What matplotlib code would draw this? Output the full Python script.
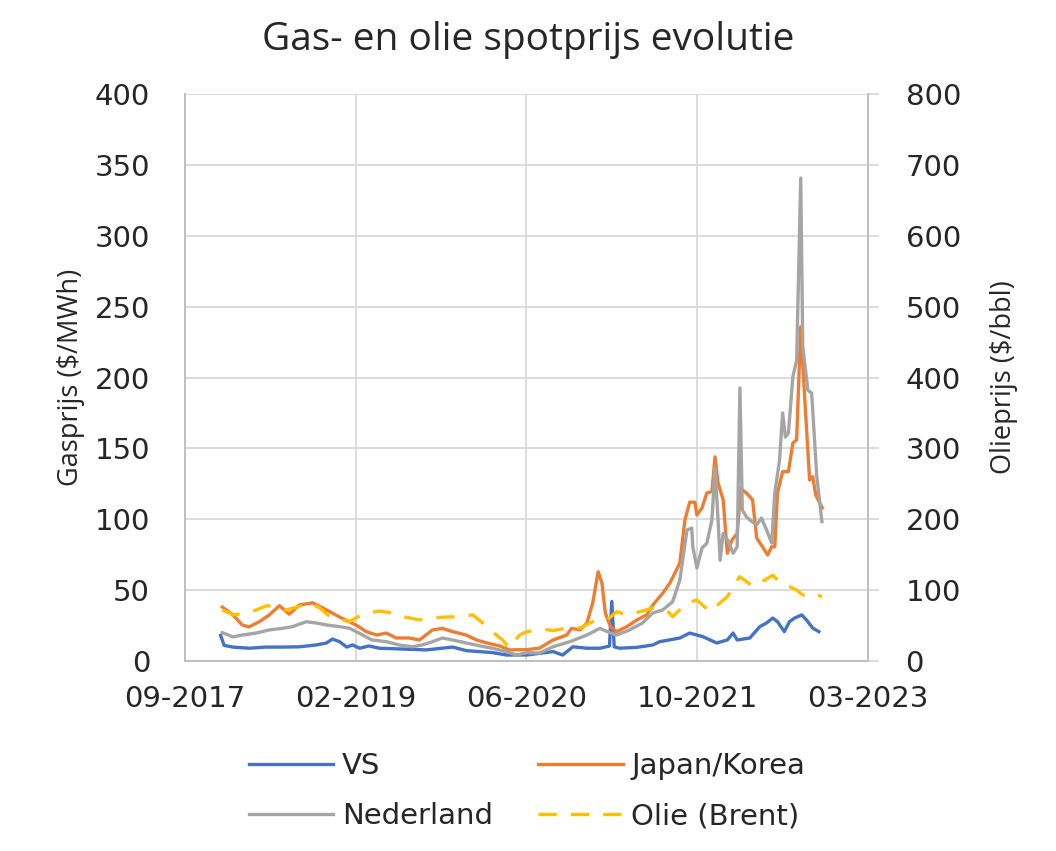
import datetime as dt
import matplotlib
matplotlib.use('Agg')
import matplotlib.pyplot as plt
import matplotlib.dates as mdates

# Gasprijzen in $/MWh (linker as), olie in $/bbl (rechter as)
vs_dates = ['2018-01-05', '2018-01-15', '2018-02-10', '2018-03-29', '2018-05-18', '2018-07-04',
            '2018-08-23', '2018-10-12', '2018-11-11', '2018-11-28', '2018-12-19', '2019-01-09',
            '2019-01-26', '2019-02-16', '2019-03-15', '2019-04-14', '2019-06-12', '2019-08-30',
            '2019-11-15', '2019-12-25', '2020-03-10', '2020-04-21', '2020-06-19', '2020-09-04',
            '2020-10-02', '2020-11-01', '2020-12-12', '2021-01-19', '2021-02-16', '2021-02-23',
            '2021-03-02', '2021-03-17', '2021-05-07', '2021-06-23', '2021-07-13', '2021-09-10',
            '2021-10-09', '2021-11-17', '2021-12-27', '2022-01-27', '2022-02-13', '2022-02-25',
            '2022-04-03', '2022-05-02', '2022-05-22', '2022-06-09', '2022-06-23', '2022-07-13',
            '2022-07-28', '2022-08-12', '2022-09-02', '2022-09-16', '2022-10-04', '2022-10-22']
vs_values = [18, 11, 9.8, 9, 9.8, 9.8, 10, 11.3, 12.7, 15.5, 13.6, 9.8, 11.3, 9, 10.6, 9, 8.5, 7.8,
             9.8, 7.3, 5.9, 4.2, 4.2, 6.6, 4.2, 10, 9, 9, 10.5, 42, 10, 9, 9.6, 11.3, 13.6, 16.2,
             19.7, 17.1, 12.7, 14.8, 19.7, 14.8, 16.2, 24.2, 26.8, 30.3, 27.7, 20.7, 27.7, 30.3,
             32.5, 28.9, 23.2, 20.7]

jk_dates = ['2018-01-10', '2018-02-10', '2018-03-09', '2018-03-29', '2018-04-28', '2018-05-27',
            '2018-06-26', '2018-07-25', '2018-08-23', '2018-10-01', '2018-11-11', '2018-12-19',
            '2019-02-08', '2019-03-07', '2019-04-06', '2019-05-05', '2019-06-03', '2019-07-11',
            '2019-08-10', '2019-09-17', '2019-10-16', '2019-11-15', '2019-12-25', '2020-01-24',
            '2020-02-23', '2020-04-01', '2020-04-29', '2020-06-19', '2020-07-26', '2020-09-04',
            '2020-10-14', '2020-10-28', '2020-11-22', '2020-12-12', '2020-12-29', '2021-01-14',
            '2021-01-25', '2021-02-04', '2021-02-19', '2021-03-09', '2021-04-08', '2021-05-07',
            '2021-06-05', '2021-06-23', '2021-07-22', '2021-08-12', '2021-09-10', '2021-09-25',
            '2021-10-09', '2021-10-24', '2021-10-30', '2021-11-14', '2021-11-28', '2021-12-13',
            '2021-12-22', '2021-12-31', '2022-01-15', '2022-01-27', '2022-02-10', '2022-02-25',
            '2022-03-08', '2022-03-15', '2022-03-24', '2022-04-11', '2022-04-23', '2022-05-10',
            '2022-05-25', '2022-06-06', '2022-06-15', '2022-06-23', '2022-07-08', '2022-07-25',
            '2022-08-07', '2022-08-18', '2022-08-30', '2022-09-11', '2022-09-25', '2022-10-04',
            '2022-10-13', '2022-11-01']
jk_values = [38, 32.5, 25.4, 24, 27.7, 32.4, 39, 33, 39.5, 41, 36, 31, 25, 20.7, 18.3, 19.7,
             16.2, 16.2, 14.8, 21.9, 23, 20.7, 18.3, 14.8, 12.7, 10.6, 7.8, 8, 9, 14.8, 18.3, 23,
             21.9, 26.8, 40.9, 63, 55, 33.9, 24.2, 20.7, 24.2, 28.9, 32.5, 39.5, 47.8, 55, 69,
             99.5, 112, 112, 103, 108, 118.5, 119.5, 144, 125.6, 113.6, 76, 85.4, 90, 122, 120,
             118.5, 113.6, 86.8, 80.6, 74.8, 80.6, 80.6, 118.5, 133.6, 133.6, 153.8, 156, 235.8,
             184, 127.7, 130, 117, 108]

nl_dates = ['2018-01-10', '2018-02-10', '2018-03-09', '2018-04-19', '2018-05-27', '2018-07-04',
            '2018-08-03', '2018-09-13', '2018-10-12', '2018-11-11', '2018-12-19', '2019-01-18',
            '2019-02-25', '2019-03-24', '2019-05-05', '2019-06-12', '2019-07-19', '2019-08-18',
            '2019-09-17', '2019-10-16', '2019-11-15', '2019-12-25', '2020-02-03', '2020-03-10',
            '2020-04-21', '2020-05-20', '2020-06-19', '2020-07-26', '2020-09-04', '2020-10-23',
            '2020-12-12', '2021-01-19', '2021-02-10', '2021-03-09', '2021-04-16', '2021-05-24',
            '2021-06-23', '2021-07-22', '2021-08-20', '2021-09-10', '2021-10-01', '2021-10-15',
            '2021-10-18', '2021-10-30', '2021-11-14', '2021-11-28', '2021-12-13', '2021-12-22',
            '2021-12-31', '2022-01-06', '2022-01-15', '2022-01-29', '2022-02-13', '2022-02-25',
            '2022-03-05', '2022-03-12', '2022-03-24', '2022-04-03', '2022-04-23', '2022-05-07',
            '2022-05-22', '2022-06-06', '2022-06-15', '2022-06-29', '2022-07-08', '2022-07-16',
            '2022-07-25', '2022-08-07', '2022-08-18', '2022-08-30', '2022-09-05', '2022-09-20',
            '2022-10-01', '2022-10-16', '2022-10-31']
nl_values = [20, 17, 18.3, 19.7, 21.9, 23, 24.2, 27.7, 26.8, 25.4, 24.2, 23, 18.3, 14.8, 13.6,
             11.3, 10, 11.3, 13.6, 16.2, 14.8, 12.7, 10.6, 9, 6.6, 4.2, 5.9, 5.6, 10, 13.6, 18.3,
             23, 20.7, 18.3, 21.9, 26.8, 33.9, 36, 41.8, 57, 92.4, 93.8, 80.6, 65.6, 79.7, 83,
             99.5, 136, 99.5, 71, 90, 85, 76, 80.6, 192.6, 106.5, 101.8, 99.5, 96, 100.9, 92.4,
             83.2, 118.5, 141.8, 175, 158, 160.8, 200.6, 212, 340.7, 221.7, 191, 189, 130, 98.3]

oil_dates = ['2018-01-10', '2018-02-10', '2018-03-15', '2018-04-19', '2018-05-20', '2018-06-20',
             '2018-07-16', '2018-08-23', '2018-09-22', '2018-10-22', '2018-11-14', '2018-12-19',
             '2019-01-18', '2019-02-25', '2019-04-14', '2019-05-22', '2019-06-21', '2019-08-10',
             '2019-09-17', '2019-10-28', '2019-12-05', '2020-01-13', '2020-02-11', '2020-03-10',
             '2020-04-09', '2020-04-29', '2020-05-29', '2020-06-19', '2020-08-05', '2020-09-04',
             '2020-10-14', '2020-11-22', '2020-12-29', '2021-02-10', '2021-03-09', '2021-04-08',
             '2021-05-17', '2021-06-23', '2021-08-02', '2021-08-20', '2021-10-01', '2021-10-30',
             '2021-12-07', '2022-01-27', '2022-03-04', '2022-03-24', '2022-04-11', '2022-05-16',
             '2022-06-09', '2022-07-08', '2022-07-28', '2022-08-18', '2022-09-05', '2022-10-04',
             '2022-10-31']
oil_values = [72, 65, 67, 72, 78, 76, 72, 77, 82, 75, 65, 58, 56, 66, 70.5, 67.7, 62.5, 58, 60.7,
              62, 62.5, 65, 53.6, 41.3, 29.6, 18.3, 36.7, 41.3, 45, 42.8, 46.6, 46.6, 55.5, 58,
              69.6, 65, 69.6, 74.8, 72, 62.5, 81.8, 86, 69.6, 90.7, 119, 112, 105, 114, 121, 107,
              105, 100, 93, 96, 90.7]

gas_ticks = [0, 50, 100, 150, 200, 250, 300, 350, 400]
oil_ticks = [0, 100, 200, 300, 400, 500, 600, 700, 800]


def to_dates(strings):
    return [dt.datetime.strptime(s, '%Y-%m-%d') for s in strings]


fig = plt.figure(figsize=(10.56, 8.51), dpi=100)
ax = fig.add_axes([0.175, 0.2233, 0.647, 0.6662])
ax2 = ax.twinx()

grid_c = '#D9D9D9'
axis_c = '#BFBFBF'
text_c = '#262626'
tick_size = 21

ax.plot(to_dates(vs_dates), vs_values, color='#4472C4', lw=2.4, label='VS')
ax.plot(to_dates(jk_dates), jk_values, color='#ED7D31', lw=2.4, label='Japan/Korea')
ax.plot(to_dates(nl_dates), nl_values, color='#A5A5A5', lw=2.4, label='Nederland')
ax2.plot(to_dates(oil_dates), oil_values, color='#FFC000', lw=2.4, dashes=(5.5, 4.2),
         label='Olie (Brent)')

start = dt.datetime(2017, 9, 22)
xticks = [start + dt.timedelta(days=500 * k) for k in range(5)]
ax.set_xlim(xticks[0], xticks[-1])
ax.set_xticks(xticks)
ax.xaxis.set_major_formatter(mdates.DateFormatter('%m-%Y'))

ax.set_ylim(0, 400)
ax.set_yticks(gas_ticks)
ax2.set_ylim(0, 800)
ax2.set_yticks(oil_ticks)

ax.grid(True, color=grid_c, lw=1.3)
ax.set_axisbelow(True)
ax.spines['top'].set_visible(False)
ax2.spines['top'].set_visible(False)
for s in ['left', 'bottom', 'right']:
    ax.spines[s].set_color(axis_c)
    ax.spines[s].set_linewidth(1.3)
    ax2.spines[s].set_color(axis_c)
    ax2.spines[s].set_linewidth(1.3)

ax.tick_params(axis='y', length=0, pad=25)
ax.tick_params(axis='x', length=0, pad=17)
ax2.tick_params(axis='y', direction='out', length=8, width=1.3, color=grid_c, pad=19)
for lab in ax.get_xticklabels() + ax.get_yticklabels() + ax2.get_yticklabels():
    lab.set_fontfamily('DejaVu Sans')
    lab.set_fontsize(tick_size)
    lab.set_color(text_c)

ax.set_ylabel('Gasprijs ($/MWh)', fontsize=19.5, family='Open Sans', color=text_c)
ax2.set_ylabel('Olieprijs ($/bbl)', fontsize=19.5, family='Open Sans', color=text_c)
ax.yaxis.set_label_coords(-0.146, 0.5)
ax2.yaxis.set_label_coords(1.178, 0.5)

fig.suptitle('Gas- en olie spotprijs evolutie', x=0.5, y=0.975, fontsize=28,
             family='Open Sans', color=text_c)

h1, l1 = ax.get_legend_handles_labels()
h2, l2 = ax2.get_legend_handles_labels()
handles = [h1[0], h1[2], h1[1], h2[0]]
labels = [l1[0], l1[2], l1[1], l2[0]]
leg = fig.legend(handles, labels, ncol=2, loc='center', bbox_to_anchor=(0.499, 0.07),
                 frameon=False, handlelength=2.9, handletextpad=0.3, columnspacing=1.55,
                 labelspacing=0.75, prop={'family': 'DejaVu Sans', 'size': tick_size})
for t in leg.get_texts():
    t.set_color(text_c)

fig.savefig('out.png', dpi=100)
